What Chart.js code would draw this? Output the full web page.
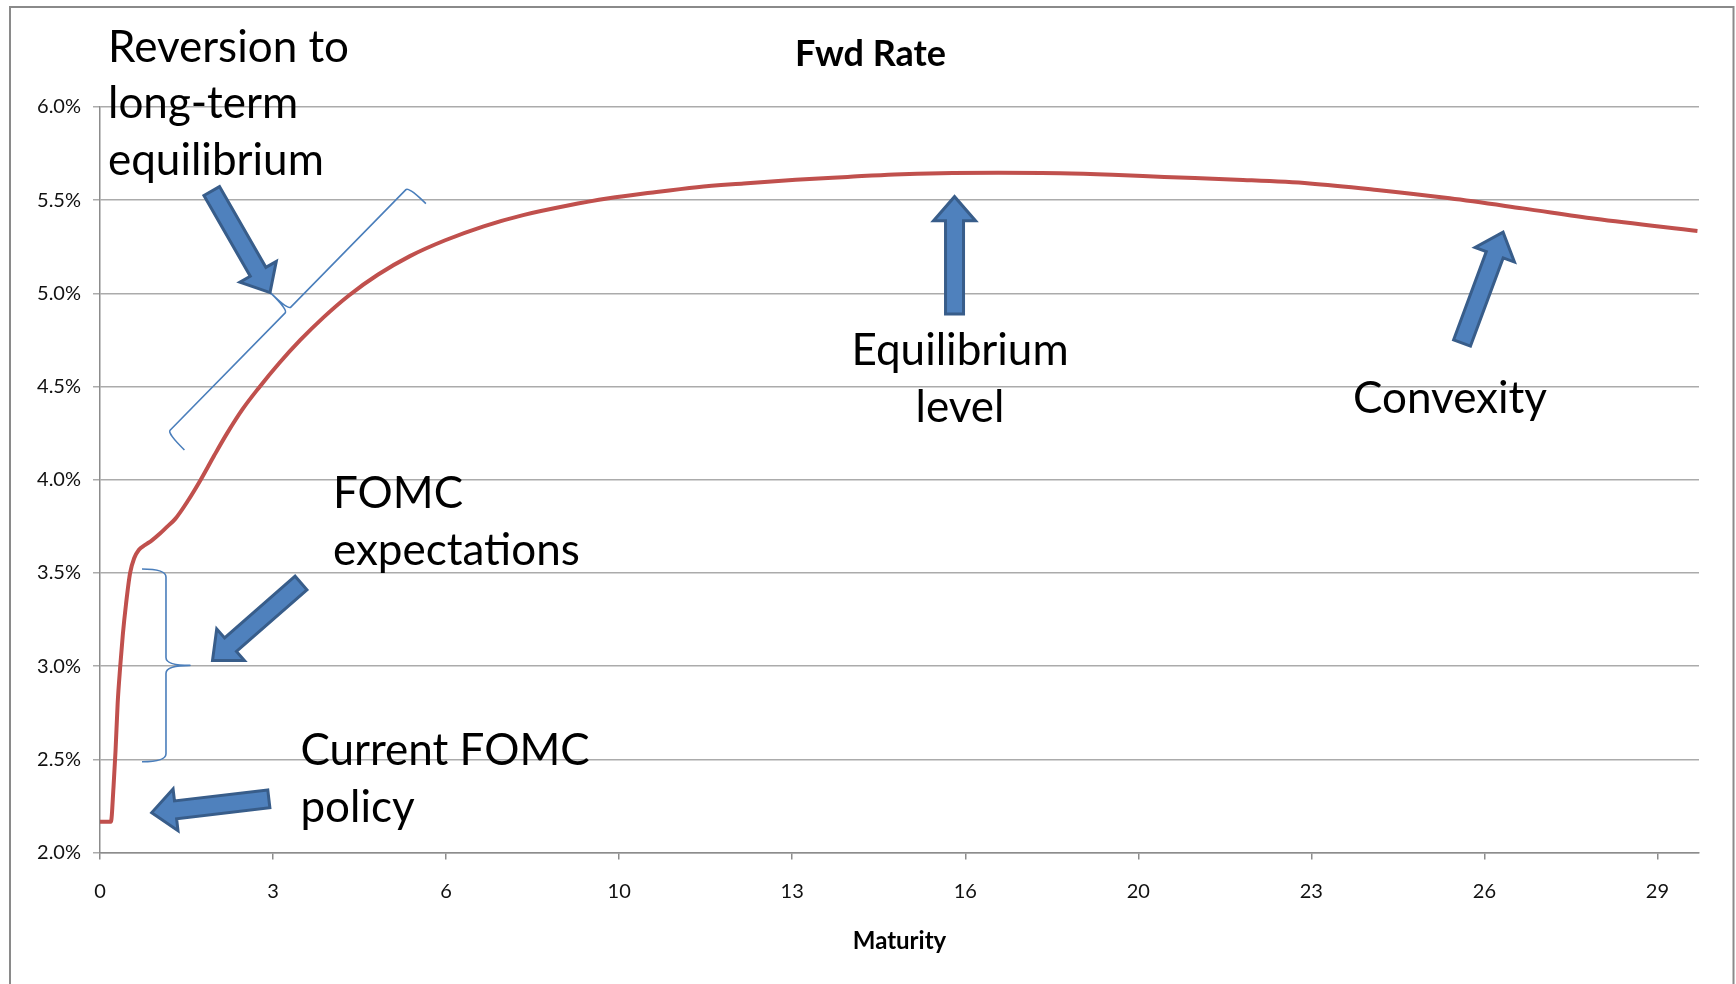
<!DOCTYPE html>
<html>
<head>
<meta charset="utf-8">
<script src="https://cdn.jsdelivr.net/npm/chart.js@4.4.1/dist/chart.umd.min.js"></script>
<style>
html,body{margin:0;padding:0;background:#fff;}
#wrap{width:1736px;height:984px;position:relative;}
</style>
</head>
<body>
<div id="wrap"><canvas id="c" width="1736" height="984"></canvas></div>
<script>
// ---- data (maturity in years, forward rate in %) ----
const maturities = [0, 0.21, 0.26, 0.30, 0.34, 0.39, 0.44, 0.50, 0.58, 0.66, 0.75, 0.87, 1.00, 1.15, 1.30, 1.45, 1.70, 1.94, 2.20, 2.45, 2.75, 3.05, 3.45, 3.86, 4.30, 4.80, 5.35, 5.97, 6.65, 7.39, 8.15, 8.99, 9.80, 10.6, 11.5, 12.4, 13.4, 14.4, 15.3, 16.2, 17.3, 18.5, 19.5, 20.5, 21.9, 23.3, 24.6, 26.0, 27.4, 28.8, 30.77];
const fwdRates   = [2.165, 2.165, 2.35, 2.55, 2.80, 3.00, 3.17, 3.33, 3.50, 3.58, 3.625, 3.65, 3.675, 3.71, 3.75, 3.79, 3.89, 4.00, 4.13, 4.25, 4.38, 4.49, 4.625, 4.75, 4.87, 4.99, 5.10, 5.20, 5.285, 5.36, 5.42, 5.47, 5.51, 5.54, 5.57, 5.59, 5.61, 5.625, 5.638, 5.645, 5.647, 5.645, 5.637, 5.625, 5.61, 5.59, 5.555, 5.51, 5.456, 5.40, 5.335];

const xTickPositions = [0, 3.333, 6.667, 10, 13.333, 16.667, 20, 23.333, 26.667, 30];
const xTickLabels    = ['0', '3', '6', '10', '13', '16', '20', '23', '26', '29'];
const yTickValues    = [2.0, 2.5, 3.0, 3.5, 4.0, 4.5, 5.0, 5.5, 6.0];

const chartTitle = 'Fwd Rate';
const xAxisTitle = 'Maturity';
const seriesName = 'Fwd Rate';

// ---- annotations (anchors in data units: x = years, y = %) ----
const noteTexts = [
  ['Reversion to', 'long-term', 'equilibrium'],
  ['FOMC', 'expectations'],
  ['Current FOMC', 'policy'],
  ['Equilibrium', 'level'],
  ['Convexity']
];
const noteAnchors = [[0.154, 6.243], [4.488, 3.847], [3.86, 2.469], [16.566, 4.616], [26.005, 4.357]];
const noteAligns  = ['left', 'left', 'left', 'center', 'center'];

const arrowTails = [[2.152, 5.549], [3.872, 3.446], [3.252, 2.288], [16.46, 4.889], [26.236, 4.734]];
const arrowTips  = [[3.275, 5.004], [2.167, 3.030], [0.996, 2.214], [16.46, 5.519], [27.026, 5.328]];

const braceStarts = [[1.296, 4.250], [1.271, 3.521]];
const braceEnds   = [[5.947, 5.572], [1.271, 2.487]];

const annotationPlugin = {
  id: 'annotations',
  afterDraw(chart) {
    const ctx = chart.ctx;
    const xs = chart.scales.x, ys = chart.scales.y;
    const P = (p) => [xs.getPixelForValue(p[0]), ys.getPixelForValue(p[1])];
    ctx.save();

    // braces
    ctx.strokeStyle = '#4a7ebb';
    ctx.lineWidth = 1.6;
    ctx.lineJoin = 'round';
    braceStarts.forEach((s, i) => {
      const A = P(s), B = P(braceEnds[i]);
      const L = Math.hypot(B[0] - A[0], B[1] - A[1]);
      const d = [(B[0] - A[0]) / L, (B[1] - A[1]) / L];
      const n = [-d[1], d[0]];
      const hook = 24, tip = 24, r = i === 0 ? 4 : 8;
      const M = [(A[0] + B[0]) / 2, (A[1] + B[1]) / 2];
      const hA = [A[0] + n[0] * hook, A[1] + n[1] * hook];
      const hB = [B[0] + n[0] * hook, B[1] + n[1] * hook];
      const T = [M[0] - n[0] * tip, M[1] - n[1] * tip];
      ctx.beginPath();
      ctx.moveTo(hA[0], hA[1]);
      ctx.quadraticCurveTo(A[0], A[1], A[0] + d[0] * r, A[1] + d[1] * r);
      ctx.lineTo(M[0] - d[0] * r, M[1] - d[1] * r);
      ctx.quadraticCurveTo(M[0], M[1], T[0], T[1]);
      ctx.quadraticCurveTo(M[0], M[1], M[0] + d[0] * r, M[1] + d[1] * r);
      ctx.lineTo(B[0] - d[0] * r, B[1] - d[1] * r);
      ctx.quadraticCurveTo(B[0], B[1], hB[0], hB[1]);
      ctx.stroke();
    });

    // block arrows
    arrowTails.forEach((t, i) => {
      const T = P(t), Q = P(arrowTips[i]);
      const L = Math.hypot(Q[0] - T[0], Q[1] - T[1]);
      const d = [(Q[0] - T[0]) / L, (Q[1] - T[1]) / L];
      const n = [-d[1], d[0]];
      const w = 9, hw = 21, hl = 24;
      const b = [Q[0] - d[0] * hl, Q[1] - d[1] * hl];
      const pts = [
        [T[0] + n[0] * w, T[1] + n[1] * w],
        [b[0] + n[0] * w, b[1] + n[1] * w],
        [b[0] + n[0] * hw, b[1] + n[1] * hw],
        Q,
        [b[0] - n[0] * hw, b[1] - n[1] * hw],
        [b[0] - n[0] * w, b[1] - n[1] * w],
        [T[0] - n[0] * w, T[1] - n[1] * w]
      ];
      ctx.beginPath();
      pts.forEach((p, k) => k ? ctx.lineTo(p[0], p[1]) : ctx.moveTo(p[0], p[1]));
      ctx.closePath();
      ctx.fillStyle = '#4f81bd';
      ctx.fill();
      ctx.lineWidth = 3;
      ctx.lineJoin = 'miter';
      ctx.strokeStyle = '#385d8a';
      ctx.stroke();
    });

    // annotation text
    ctx.fillStyle = '#000';
    ctx.font = '44px Lato';
    ctx.textBaseline = 'alphabetic';
    noteTexts.forEach((lines, i) => {
      const a = P(noteAnchors[i]);
      ctx.textAlign = noteAligns[i];
      lines.forEach((ln, k) => ctx.fillText(ln, a[0], a[1] + k * 56.7));
    });

    // outer chart border
    ctx.strokeStyle = '#8a8a8a';
    ctx.lineWidth = 2;
    ctx.strokeRect(10, 7, 1723.5, 1000);
    ctx.restore();
  }
};

Chart.defaults.font.family = 'Lato';
Chart.defaults.color = '#111';

new Chart(document.getElementById('c'), {
  type: 'line',
  data: {
    datasets: [{
      label: seriesName,
      data: maturities.map((m, i) => ({x: m, y: fwdRates[i]})),
      borderColor: '#c0504d',
      borderWidth: 4,
      pointRadius: 0,
      fill: false,
      cubicInterpolationMode: 'monotone'
    }]
  },
  options: {
    responsive: false,
    animation: false,
    events: [],
    layout: {padding: {left: 5, right: 0, top: 0, bottom: 0}},
    plugins: {
      legend: {display: false},
      tooltip: {enabled: false},
      title: {
        display: true,
        text: chartTitle,
        color: '#000',
        font: {family: 'Lato', size: 36, weight: 'bold'},
        padding: {top: 33, bottom: 30.8}
      }
    },
    scales: {
      x: {
        type: 'linear',
        min: 0,
        max: 30.8,
        afterBuildTicks: (s) => { s.ticks = xTickPositions.map(v => ({value: v})); },
        afterFit: (s) => { s.height = 131.5; },
        ticks: {
          autoSkip: false,
          maxRotation: 0,
          padding: 20,
          color: '#111',
          font: {size: 20},
          callback: (v, i) => xTickLabels[i]
        },
        grid: {display: true, drawOnChartArea: false, drawTicks: true, tickLength: 7, color: '#8c8c8c', lineWidth: 1.5},
        border: {display: true, color: '#8c8c8c', width: 1.5},
        title: {display: true, text: xAxisTitle, color: '#000', font: {size: 24, weight: 'bold'}, padding: {top: 0, bottom: 28}}
      },
      y: {
        type: 'linear',
        min: 2,
        max: 6,
        afterBuildTicks: (s) => { s.ticks = yTickValues.map(v => ({value: v})); },
        afterFit: (s) => { s.width = 95; },
        ticks: {
          padding: 12,
          color: '#111',
          font: {size: 20},
          callback: (v) => v.toFixed(1) + '%'
        },
        grid: {color: '#ababab', lineWidth: 1.5, tickLength: 7, drawTicks: true},
        border: {display: true, color: '#8c8c8c', width: 1.5}
      },
      yR: {
        type: 'linear',
        position: 'right',
        display: true,
        afterFit: (s) => { s.width = 37; },
        ticks: {display: false},
        grid: {display: false},
        border: {display: false}
      }
    }
  },
  plugins: [annotationPlugin]
});
</script>
</body>
</html>
